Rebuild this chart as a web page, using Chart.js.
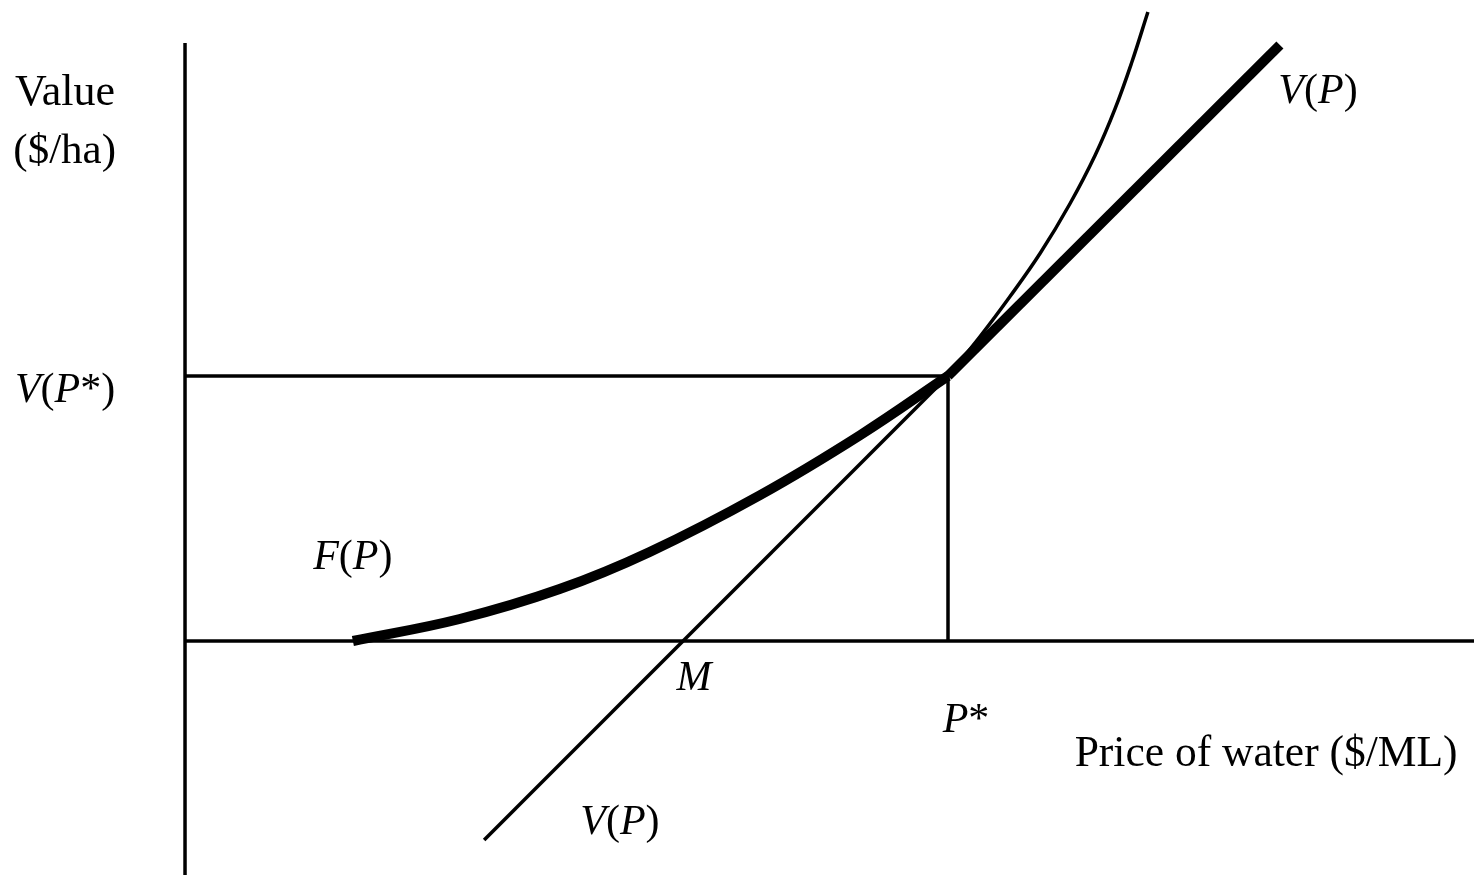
<!DOCTYPE html>
<html>
<head>
<meta charset="utf-8">
<script src="https://cdn.jsdelivr.net/npm/chart.js@4/dist/chart.umd.min.js"></script>
<style>
  html, body { margin: 0; padding: 0; background: #fff; }
</style>
</head>
<body>
<canvas id="chart" width="1474" height="875"></canvas>
<script>
// values; P* = 100 on the price axis, V(P*) = 100 on the value axis
var fThickX = [22.0, 36.0, 49.1, 60.9, 75.4, 88.5, 100];
var fThickY = [0, 8.3, 19.6, 33.6, 55.1, 77.7, 100];

var fThinX = [100, 104.2, 108.1, 112.1, 116.0, 119.3, 121.9, 124.1, 126.2];
var fThinY = [100, 114.9, 129.9, 146.4, 165.1, 183.4, 200.9, 218.5, 237.4];

var vLowX = [39.2, 100];
var vLowY = [-75.1, 100];
var vHighX = [100, 143.5];
var vHighY = [100, 224.9];

var pStar = 100;
var vStar = 100;

var xMin = -24.25, xMax = 168.94;
var yMin = -88.3, yMax = 241.9;
var yAxisTop = 225.7;

function pts(xs, ys) {
  return xs.map(function (x, i) { return { x: x, y: ys[i] }; });
}

// text labels: runs of [text, italic?], anchored in data units (left, baseline)
var labels = [
  { x: -22.3, y: 202.3, size: 44, runs: [['Value', false]] },
  { x: -22.5, y: 180.4, size: 43, runs: [['($/ha)', false]] },
  { x: -22.3, y: 90.2, size: 42, runs: [['V', true], ['(', false], ['P', true], ['*', false], [')', false]] },
  { x: 16.8, y: 27.2, size: 42, runs: [['F', true], ['(', false], ['P', true], [')', false]] },
  { x: 64.4, y: -18.5, size: 42, runs: [['M', true]] },
  { x: 99.3, y: -34.3, size: 42, runs: [['P', true], ['*', false]] },
  { x: 116.6, y: -47.2, size: 43.5, runs: [['Price of water ($/ML)', false]] },
  { x: 51.8, y: -72.8, size: 42, runs: [['V', true], ['(', false], ['P', true], [')', false]] },
  { x: 143.3, y: 203.0, size: 42, runs: [['V', true], ['(', false], ['P', true], [')', false]] }
];

const textPlugin = {
  id: 'diagramText',
  afterDatasetsDraw(chart) {
    const ctx = chart.ctx;
    const xs = chart.scales.x, ys = chart.scales.y;
    ctx.save();
    ctx.fillStyle = '#000';
    ctx.textBaseline = 'alphabetic';
    ctx.textAlign = 'left';
    labels.forEach(function (lab) {
      let px = xs.getPixelForValue(lab.x);
      const py = ys.getPixelForValue(lab.y);
      lab.runs.forEach(function (r) {
        ctx.font = (r[1] ? 'italic ' : '') + lab.size + 'px "Liberation Serif", "DejaVu Serif", serif';
        ctx.fillText(r[0], px, py);
        px += ctx.measureText(r[0]).width;
      });
    });
    ctx.restore();
  }
};

function line(data, width, curve) {
  return {
    data: data,
    showLine: true,
    borderColor: '#000',
    borderWidth: width,
    borderCapStyle: 'butt',
    pointRadius: 0,
    fill: false,
    clip: false,
    tension: curve ? 0.4 : 0
  };
}

new Chart(document.getElementById('chart'), {
  type: 'scatter',
  data: {
    datasets: [
      line(pts(fThickX, fThickY), 10, true),
      line(pts(vHighX, vHighY), 10),
      line(pts(fThinX, fThinY), 3.5, true),
      line(pts(vLowX, vLowY), 3.5),
      // axes and guide lines
      line([{ x: 0, y: yMin }, { x: 0, y: yAxisTop }], 3.5),
      line([{ x: 0, y: 0 }, { x: xMax, y: 0 }], 3.5),
      line([{ x: 0, y: vStar }, { x: pStar, y: vStar }], 3.5),
      line([{ x: pStar, y: 0 }, { x: pStar, y: vStar }], 3.5)
    ]
  },
  options: {
    responsive: false,
    animation: false,
    layout: { padding: 0 },
    plugins: {
      legend: { display: false },
      tooltip: { enabled: false }
    },
    scales: {
      x: { type: 'linear', min: xMin, max: xMax, display: false },
      y: { type: 'linear', min: yMin, max: yMax, display: false }
    }
  },
  plugins: [textPlugin]
});
</script>
</body>
</html>
